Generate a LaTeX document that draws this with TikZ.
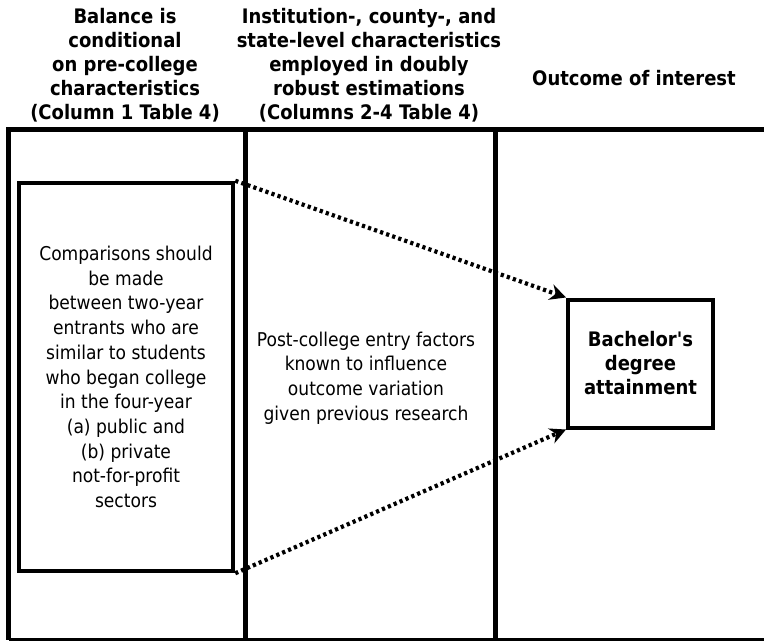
\documentclass[tikz,border=0pt]{standalone}
\usepackage{fontspec}
\setmainfont{DejaVu Sans Condensed}
\usetikzlibrary{arrows.meta, positioning, calc}

\begin{document}
\begin{tikzpicture}[x=1pt, y=-1pt,
    frame/.style={line width=5pt},
    heading/.style={font=\fontsize{20}{24}\selectfont\bfseries, align=center},
    body/.style={font=\fontsize{19}{24.7}\selectfont, align=center},
    flow/.style={line width=4.2pt, dash pattern=on 3.2pt off 3.2pt,
        -{Stealth[length=16pt, width=16pt]}}]
    % Page size
    \useasboundingbox (0,0) rectangle (764,642);

    % Define the corners of the table for easier reference
    \coordinate (TL) at (6,130);
    \coordinate (TR) at (764,130);
    \coordinate (L) at (8.5,130);
    \coordinate (BL) at (8.5,639.5);
    \coordinate (BR) at (764,639.5);
    \coordinate (A) at (245,130);
    \coordinate (B) at (495.5,130);
    \coordinate (C) at (245,639.5);
    \coordinate (D) at (495.5,639.5);

    % Draw the table lines
    \draw[frame] (TL) -- (TR);
    \draw[frame] (L) -- (BL);
    \draw[frame] (A) -- (C);
    \draw[frame] (B) -- (D);
    \draw[line width=3pt] (BL) -- (BR);

    % Column headings
    \node[heading] (balance) at (125,65) {Balance is\\conditional\\on pre-college\\characteristics\\(Column 1 Table 4)};
    \node[heading] (controls) at (369,65) {Institution-, county-, and\\state-level characteristics\\employed in doubly\\robust estimations\\(Columns 2-4 Table 4)};
    \node[heading] (interest) at (634,78) {Outcome of interest};

    % Boxes and text in the columns
    \node[body, draw, line width=4.5pt, minimum width=214pt, minimum height=388pt] (sample) at (126,377)
        {Comparisons should\\be made\\between two-year\\entrants who are\\similar to students\\who began college\\in the four-year\\(a) public and\\(b) private\\not-for-profit\\sectors};
    \node[body] (entry) at (366,378) {Post-college entry factors\\known to influence\\outcome variation\\given previous research};
    \node[heading, draw, line width=4pt, minimum width=145pt, minimum height=128pt] (degree) at (640.5,363.5)
        {Bachelor\textquotesingle s\\degree\\attainment};

    % Dotted arrows
    \draw[flow] (sample.north east) -- (degree.north west);
    \draw[flow] (sample.south east) -- (degree.south west);
\end{tikzpicture}
\end{document}
